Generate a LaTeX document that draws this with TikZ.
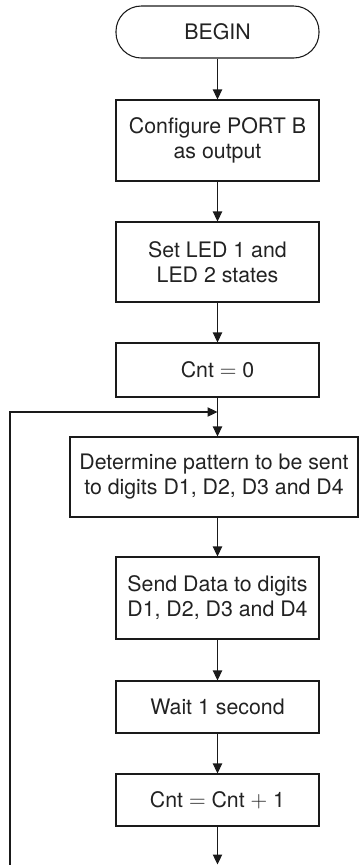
\documentclass[tikz,border=0pt]{standalone}
\usepackage{fontspec}
\setmainfont{TeX Gyre Heros}
\usepackage{tikz}
\usetikzlibrary{positioning,arrows.meta,calc}
\definecolor{fcLine}{HTML}{1A1A1A}
\definecolor{fcText}{HTML}{222222}
\tikzset{
    fcBoxBase/.style={
        rectangle,
        draw=fcLine,
        line width=0.8pt,
        minimum width=152.25pt,
        text=fcText,
        font=\fontsize{16}{18.75}\selectfont,
        align=center,
        inner sep=0pt
    },
    % Semantic Variants
    fcTerm/.style={fcBoxBase, rounded corners=19pt, minimum height=39pt},
    fcStep/.style={fcBoxBase, minimum height=60.75pt},
    fcShort/.style={fcBoxBase, minimum height=39pt},
    % Arrows
    fcArrowBase/.style={-{Triangle[length=7.5pt,width=7pt]}, line width=0.8pt, draw=fcLine},
    fcLineBase/.style={line width=0.8pt, draw=fcLine}
}
\begin{document}
\begin{tikzpicture}[x=0.75pt,y=-0.75pt]
    \useasboundingbox (0,0) rectangle (359,865);
    \node[fcTerm] (begin) at (217.5, 32) {BEGIN};
    \node[fcStep] (portb) at (217.5, 140.5) {Configure PORT B\\as output};
    \node[fcStep, minimum height=60pt] (leds) at (217.5, 262) {Set LED 1 and\\LED 2 states};
    \node[fcShort, minimum height=40.5pt] (cnt0) at (217.5, 370) {Cnt $=$ 0};
    \coordinate (join) at (217.5, 412);
    \node[fcStep, minimum width=216pt, minimum height=60pt] (pattern) at (214, 477) {Determine pattern to be sent\\to digits D1, D2, D3 and D4};
    \node[fcStep, minimum height=61.5pt] (send) at (217.5, 598) {Send Data to digits\\D1, D2, D3 and D4};
    \node[fcShort] (wait) at (217.5, 707) {Wait 1 second};
    \node[fcShort] (incr) at (217.5, 800) {Cnt $=$ Cnt $+$ 1};
    \coordinate (out) at (217.5, 864.5);
    \coordinate (back) at (10, 865);
    % main flow
    \draw[fcArrowBase] (begin) -- (portb);
    \draw[fcArrowBase] (portb) -- (leds);
    \draw[fcArrowBase] (leds) -- (cnt0);
    \draw[fcLineBase] (cnt0) -- (join);
    \draw[fcArrowBase] (join) -- (join |- pattern.north);
    \draw[fcArrowBase] (pattern.south -| join) -- (send);
    \draw[fcArrowBase] (send) -- (wait);
    \draw[fcArrowBase] (wait) -- (incr);
    \draw[fcArrowBase] (incr) -- (out);
    % loop back
    \draw[fcArrowBase] (back) -- (back |- join) -- (join);
\end{tikzpicture}
\end{document}
